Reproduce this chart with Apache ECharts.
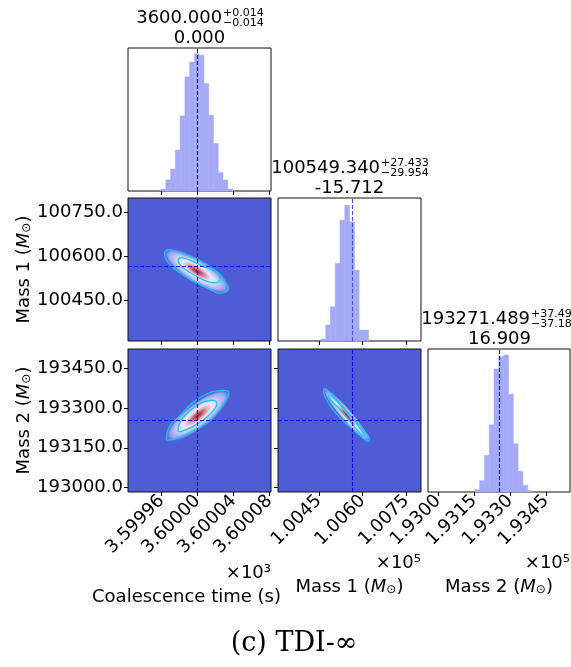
<!DOCTYPE html>
<html>
<head>
<meta charset="utf-8">
<title>Corner plot TDI</title>
<script src="https://cdn.jsdelivr.net/npm/echarts@6/dist/echarts.min.js"></script>
<style>
  html, body { margin: 0; padding: 0; background: #fff; }
  #container { width: 571px; height: 667px; }
</style>
</head>
<body>
<div id="container"></div>
<script>
// ---- values ----
const timeEdges = [3599.9594, 3599.9647, 3599.9700, 3599.9753, 3599.9806, 3599.9859, 3599.9912, 3599.9965,
  3600.0018, 3600.0071, 3600.0124, 3600.0177, 3600.0230, 3600.0283, 3600.0336, 3600.0389];
const timeCounts = [6, 33, 66, 123, 226, 343, 388, 413, 408, 323, 228, 143, 56, 33, 6];

const mass1Edges = [100457.0, 100473.4, 100489.7, 100506.1, 100522.4, 100538.8, 100555.2, 100571.5,
  100587.9, 100604.2, 100620.6];
const mass1Counts = [6, 48, 103, 233, 363, 408, 358, 213, 33, 33];

const mass2Edges = [193153.3, 193173.4, 193193.4, 193213.5, 193233.5, 193253.6, 193273.6, 193293.7,
  193313.7, 193333.8, 193353.8, 193373.9, 193393.9];
const mass2Counts = [7, 34, 110, 202, 370, 407, 412, 294, 145, 62, 20, 4];

const truthTime = 3600.0;
const truthMass1 = 100565.05;
const truthMass2 = 193254.58;

const timeTicks = [3599.96, 3600.00, 3600.04, 3600.08];
const mass1Ticks = [100450, 100600, 100750];
const mass2Ticks = [193000, 193150, 193300, 193450];

// contour lines (outer / inner level) as [x, y] in data units
const tm1Outer = [[3599.9643, 100619], [3599.9691, 100623], [3599.9803, 100612], [3599.9951, 100595],
  [3600.0100, 100572], [3600.0249, 100538], [3600.0323, 100504], [3600.0341, 100487], [3600.0285, 100476],
  [3600.0212, 100476], [3600.0100, 100493], [3599.9951, 100515], [3599.9803, 100544], [3599.9691, 100572],
  [3599.9635, 100600]];
const tm1Inner = [[3599.9784, 100589], [3599.9839, 100595], [3600.0062, 100566], [3600.0212, 100544],
  [3600.0249, 100521], [3600.0212, 100510], [3600.0100, 100515], [3599.9951, 100538], [3599.9822, 100566]];

const tm2Outer = [[3599.9654, 193183], [3599.9691, 193233], [3599.9803, 193271], [3599.9951, 193322],
  [3600.0100, 193353], [3600.0212, 193365], [3600.0341, 193363], [3600.0341, 193347], [3600.0249, 193296],
  [3600.0137, 193252], [3599.9989, 193221], [3599.9839, 193195], [3599.9691, 193179]];
const tm2Inner = [[3599.9784, 193214], [3599.9803, 193246], [3599.9914, 193290], [3600.0062, 193322],
  [3600.0193, 193328], [3600.0212, 193309], [3600.0100, 193265], [3599.9951, 193231], [3599.9822, 193212]];

const m12Outer = [[100468.5, 193371.8], [100477.5, 193369.2], [100509.7, 193334.0], [100555.4, 193277.3],
  [100595.5, 193227.0], [100621.6, 193189.2], [100621.6, 193176.4], [100612.7, 193176.4], [100578.4, 193208.1],
  [100532.4, 193252.0], [100492.6, 193302.6], [100469.6, 193346.5], [100466.1, 193361.6]];
const m12Inner = [[100486.7, 193349.2], [100509.7, 193327.6], [100555.4, 193273.5], [100601.0, 193208.1],
  [100606.9, 193195.3], [100599.0, 193195.3], [100555.4, 193252.0], [100509.7, 193308.7], [100484.3, 193340.5]];

// density blobs: [centre x, centre y, major-axis end x, y, minor-axis end x, y]
const tm1Blob = [3599.99922, 100549.8, 3600.0370, 100477.8, 3599.99213, 100515.2];
const tm2Blob = [3600.00033, 193271.6, 3600.03658, 193366.2, 3600.00914, 193232.7];
const m12Blob = [100545.1, 193273.5, 100628.1, 193167.7, 100529.6, 193258.8];

const titles = [
  { main: "3600.000", up: "+0.014", down: "\u22120.014", diff: "0.000" },
  { main: "100549.340", up: "+27.433", down: "\u221229.954", diff: "-15.712" },
  { main: "193271.489", up: "+37.495", down: "\u221237.183", diff: "16.909" },
];

// ---- layout ----
const P = 143;
const colX = [128, 278, 428];
const rowY = [48, 198, 349];
const timeRange = [3599.9226, 3600.0817];
const mass1Range = [100310, 100800];
const mass2RangeY = [192983, 193523];
const mass2RangeX = [192958, 193550];
const histMax = 430;

const FONT = "DejaVu Sans";
const BG2D = "#4e5dd5";
const HIST = "#a4aaf6";
const CONTOUR = "#19c4f7";

const dom = document.getElementById("container");
const myChart = echarts.init(dom, null, { renderer: "canvas" });

function gridAt(r, c, bg) {
  return {
    left: colX[c], top: rowY[r], width: c === 2 ? P - 1 : P, height: P,
    show: true, borderColor: "#111", borderWidth: 1,
    backgroundColor: bg || "transparent",
  };
}

const timeFmt = (v) => (v / 1000).toFixed(5);
const massXFmt = (v) => (v / 1e5).toFixed(4);
const massYFmt = (v) => v.toFixed(1);

function xAxisFor(gi, range, ticks, fmt) {
  return {
    type: "value", gridIndex: gi, min: range[0], max: range[1],
    axisLine: { show: false }, splitLine: { show: false },
    axisTick: { show: true, customValues: ticks, length: 4, lineStyle: { color: "#000", width: 1 } },
    axisLabel: fmt ? {
      show: true, customValues: ticks, formatter: fmt, rotate: 45, margin: 6,
      fontSize: 18, fontFamily: FONT, color: "#000",
    } : { show: false },
  };
}

function yAxisFor(gi, range, ticks, fmt) {
  return {
    type: "value", gridIndex: gi, min: range[0], max: range[1],
    axisLine: { show: false }, splitLine: { show: false },
    axisTick: { show: true, customValues: ticks, length: 4, lineStyle: { color: "#000", width: 1 } },
    axisLabel: fmt ? {
      show: true, customValues: ticks, formatter: fmt, margin: 5,
      fontSize: 18, fontFamily: FONT, color: "#000",
    } : { show: false },
  };
}

function histYAxis(gi) {
  return { type: "value", gridIndex: gi, min: 0, max: histMax, show: false };
}

const nameRich = {
  it: { fontStyle: "italic", fontSize: 18, fontFamily: FONT, color: "#000" },
  sub: { fontSize: 12, fontFamily: FONT, color: "#000", padding: [5, 0, 0, 0] },
};

function histSeries(gi, edges, counts) {
  return {
    type: "custom", xAxisIndex: gi, yAxisIndex: gi, silent: true, z: 2,
    data: counts.map((c, i) => [edges[i], edges[i + 1], c]),
    encode: { x: [0, 1], y: 2 },
    renderItem: (params, api) => {
      const p0 = api.coord([api.value(0), 0]);
      const p1 = api.coord([api.value(1), api.value(2)]);
      return {
        type: "rect",
        shape: { x: p0[0], y: p1[1], width: p1[0] - p0[0], height: p0[1] - p1[1] },
        style: { fill: HIST, stroke: HIST, lineWidth: 0.5 },
      };
    },
  };
}

function blobSeries(gi, blob) {
  return {
    type: "custom", xAxisIndex: gi, yAxisIndex: gi, silent: true, clip: true, z: 2,
    data: [blob],
    encode: { x: 0, y: 1 },
    renderItem: (params, api) => {
      const c = api.coord([api.value(0), api.value(1)]);
      const a = api.coord([api.value(2), api.value(3)]);
      const b = api.coord([api.value(4), api.value(5)]);
      const rx = Math.hypot(a[0] - c[0], a[1] - c[1]);
      const ry = Math.hypot(b[0] - c[0], b[1] - c[1]);
      return {
        type: "circle",
        x: c[0], y: c[1],
        rotation: -Math.atan2(a[1] - c[1], a[0] - c[0]),
        scaleX: rx, scaleY: ry,
        shape: { cx: 0, cy: 0, r: 1 },
        style: {
          fill: {
            type: "radial", x: 0.5, y: 0.5, r: 0.5,
            colorStops: [
              { offset: 0, color: "#9c1f3c" },
              { offset: 0.12, color: "#bd4d66" },
              { offset: 0.28, color: "#dcaabb" },
              { offset: 0.42, color: "#ebe8f3" },
              { offset: 0.62, color: "#c9cdf3" },
              { offset: 0.82, color: "#98a2ec" },
              { offset: 1, color: "rgba(78,93,213,0)" },
            ],
          },
        },
      };
    },
  };
}

function contourSeries(gi, pts) {
  return {
    type: "custom", xAxisIndex: gi, yAxisIndex: gi, silent: true, clip: true, z: 3,
    data: pts,
    encode: { x: 0, y: 1 },
    renderItem: (params, api) => {
      if (params.dataIndex !== 0) return null;
      return {
        type: "polygon",
        shape: { points: pts.map((p) => api.coord(p)), smooth: 0.35 },
        style: { fill: "none", stroke: CONTOUR, lineWidth: 1.3 },
      };
    },
  };
}

function truthLine(gi, key, value, color) {
  const d = {};
  d[key] = value;
  return {
    type: "line", xAxisIndex: gi, yAxisIndex: gi, data: [], z: 5,
    markLine: {
      silent: true, symbol: "none", label: { show: false },
      lineStyle: { color: color, type: [4, 2], width: 1.1 },
      data: [d],
    },
  };
}

// text measuring for the stacked super/subscripts of the titles
const measureCtx = document.createElement("canvas").getContext("2d");
function textWidth(text, size) {
  measureCtx.font = size + "px \"" + FONT + "\"";
  return measureCtx.measureText(text).width;
}

const graphic = [];
titles.forEach((t, i) => {
  const cx = colX[i] + P / 2;
  const top = rowY[i];
  const wMain = textWidth(t.main, 18);
  const wSup = Math.max(textWidth(t.up, 11), textWidth(t.down, 11));
  const x0 = cx - (wMain + wSup) / 2;
  const yMain = top - 30;
  graphic.push({ type: "text", x: x0, y: yMain, silent: true,
    style: { text: t.main, font: "18px \"" + FONT + "\"", fill: "#000", textAlign: "left", textVerticalAlign: "middle" } });
  graphic.push({ type: "text", x: x0 + wMain + 1, y: yMain - 4.5, silent: true,
    style: { text: t.up, font: "11px \"" + FONT + "\"", fill: "#000", textAlign: "left", textVerticalAlign: "middle" } });
  graphic.push({ type: "text", x: x0 + wMain + 1, y: yMain + 5.5, silent: true,
    style: { text: t.down, font: "11px \"" + FONT + "\"", fill: "#000", textAlign: "left", textVerticalAlign: "middle" } });
  graphic.push({ type: "text", x: cx, y: top - 10, silent: true,
    style: { text: t.diff, font: "18px \"" + FONT + "\"", fill: "#000", textAlign: "center", textVerticalAlign: "middle" } });
});

// offset (exponent) texts of the bottom axes
[[271, 573, "\u00d710\u00b3"], [421, 563, "\u00d710\u2075"], [570, 563, "\u00d710\u2075"]].forEach((o) => {
  graphic.push({ type: "text", x: o[0], y: o[1], silent: true,
    style: { text: o[2], font: "18px \"" + FONT + "\"", fill: "#000", textAlign: "right", textVerticalAlign: "middle" } });
});

// caption
graphic.push({ type: "text", x: 294, y: 644, silent: true,
  style: { text: "(c) TDI-\u221e", font: "27px \"DejaVu Serif\"", fill: "#000", textAlign: "center", textVerticalAlign: "middle" } });

const xAxes = [
  xAxisFor(0, timeRange, timeTicks, null),
  xAxisFor(1, timeRange, timeTicks, null),
  xAxisFor(2, mass1Range, mass1Ticks, null),
  Object.assign(xAxisFor(3, timeRange, timeTicks, timeFmt), {
    name: "Coalescence time (s)", nameLocation: "middle", nameGap: 96,
    nameTextStyle: { fontSize: 18, fontFamily: FONT, color: "#000", padding: [0, 26, 0, 0] },
  }),
  Object.assign(xAxisFor(4, mass1Range, mass1Ticks, massXFmt), {
    name: "Mass 1 ({it|M}{sub|\u2299})", nameLocation: "middle", nameGap: 86,
    nameTextStyle: { fontSize: 18, fontFamily: FONT, color: "#000", rich: nameRich },
  }),
  Object.assign(xAxisFor(5, mass2RangeX, mass2Ticks, massXFmt), {
    name: "Mass 2 ({it|M}{sub|\u2299})", nameLocation: "middle", nameGap: 86,
    nameTextStyle: { fontSize: 18, fontFamily: FONT, color: "#000", rich: nameRich },
  }),
];

const yAxes = [
  histYAxis(0),
  Object.assign(yAxisFor(1, mass1Range, mass1Ticks, massYFmt), {
    name: "Mass 1 ({it|M}{sub|\u2299})", nameLocation: "middle", nameGap: 93,
    nameTextStyle: { fontSize: 18, fontFamily: FONT, color: "#000", rich: nameRich },
  }),
  histYAxis(2),
  Object.assign(yAxisFor(3, mass2RangeY, mass2Ticks, massYFmt), {
    name: "Mass 2 ({it|M}{sub|\u2299})", nameLocation: "middle", nameGap: 93,
    nameTextStyle: { fontSize: 18, fontFamily: FONT, color: "#000", rich: nameRich },
  }),
  yAxisFor(4, mass2RangeY, mass2Ticks, null),
  histYAxis(5),
];

const DASH = "#0a0ae6";

const option = {
  animation: false,
  backgroundColor: "#fff",
  textStyle: { fontFamily: FONT },
  grid: [
    gridAt(0, 0),
    gridAt(1, 0, BG2D),
    gridAt(1, 1),
    gridAt(2, 0, BG2D),
    gridAt(2, 1, BG2D),
    gridAt(2, 2),
  ],
  xAxis: xAxes,
  yAxis: yAxes,
  series: [
    histSeries(0, timeEdges, timeCounts),
    histSeries(2, mass1Edges, mass1Counts),
    histSeries(5, mass2Edges, mass2Counts),

    blobSeries(1, tm1Blob),
    contourSeries(1, tm1Outer),
    contourSeries(1, tm1Inner),

    blobSeries(3, tm2Blob),
    contourSeries(3, tm2Outer),
    contourSeries(3, tm2Inner),

    blobSeries(4, m12Blob),
    contourSeries(4, m12Outer),
    contourSeries(4, m12Inner),

    truthLine(0, "xAxis", truthTime, DASH),
    truthLine(2, "xAxis", truthMass1, "#4a4aff"),
    truthLine(5, "xAxis", truthMass2, DASH),
    truthLine(1, "xAxis", truthTime, DASH),
    truthLine(1, "yAxis", truthMass1, DASH),
    truthLine(3, "xAxis", truthTime, DASH),
    truthLine(3, "yAxis", truthMass2, DASH),
    truthLine(4, "xAxis", truthMass1, DASH),
    truthLine(4, "yAxis", truthMass2, DASH),
  ],
  graphic: graphic,
};

myChart.setOption(option);
window.addEventListener("resize", myChart.resize);
</script>
</body>
</html>
